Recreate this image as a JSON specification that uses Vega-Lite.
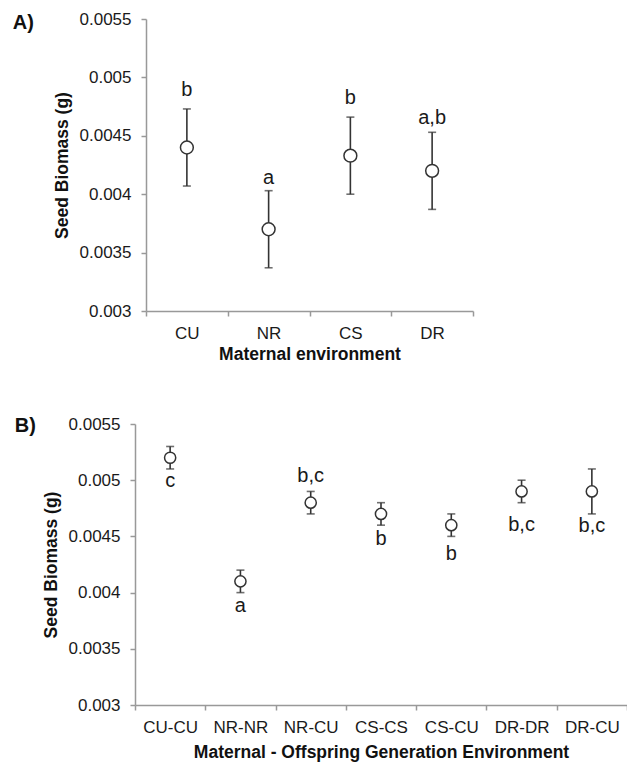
{
  "$schema": "https://vega.github.io/schema/vega-lite/v6.json",
  "background": "white",
  "padding": {"left": 12, "top": 10, "right": 0, "bottom": 2},
  "spacing": 52,
  "config": {
    "view": {"stroke": null},
    "font": "Liberation Sans",
    "axis": {
      "domainColor": "#999999",
      "tickColor": "#999999",
      "domainWidth": 1.5,
      "tickWidth": 1.5,
      "tickSize": 5,
      "labelColor": "#1a1a1a",
      "titleColor": "#111111",
      "labelFont": "Liberation Sans",
      "titleFont": "Liberation Sans",
      "labelFontSize": 17,
      "titleFontSize": 17.5,
      "titleFontWeight": "bold",
      "grid": false
    }
  },
  "vconcat": [
    {
      "width": 338,
      "height": 292,
      "title": {"text": "A)", "orient": "left", "anchor": "end", "angle": 0, "align": "right", "baseline": "middle", "fontSize": 20, "fontWeight": "bold", "font": "Liberation Sans", "color": "#111111", "offset": -2, "dy": 4, "frame": "group"},
      "data": {"values": [
        {"env": "CU", "mean": 0.0044, "lower": 0.00407, "upper": 0.00473, "label": "b", "label_y": 0.00489},
        {"env": "NR", "mean": 0.0037, "lower": 0.00337, "upper": 0.00403, "label": "a", "label_y": 0.00414},
        {"env": "CS", "mean": 0.00433, "lower": 0.0040, "upper": 0.00466, "label": "b", "label_y": 0.00482},
        {"env": "DR", "mean": 0.0042, "lower": 0.00387, "upper": 0.00453, "label": "a,b", "label_y": 0.00465}
      ]},
      "encoding": {
        "x": {"field": "env", "type": "nominal", "sort": null, "title": "Maternal environment",
              "scale": {"paddingInner": 0, "paddingOuter": 0, "range": [11, 338]},
              "axis": {"labelAngle": 0, "tickBand": "extent", "labelPadding": 9, "titlePadding": 4}}
      },
      "layer": [
        {
          "mark": {"type": "errorbar", "color": "#333333", "thickness": 1.6, "ticks": {"size": 8, "thickness": 1.6, "color": "#333333"}},
          "encoding": {
            "y": {"field": "lower", "type": "quantitative", "title": "Seed Biomass (g)",
                  "scale": {"domain": [0.003, 0.0055], "nice": false},
                  "axis": {"values": [0.003, 0.0035, 0.004, 0.0045, 0.005, 0.0055], "format": "~g", "labelPadding": 10, "titlePadding": 8, "offset": -11}},
            "y2": {"field": "upper"}
          }
        },
        {
          "mark": {"type": "point", "shape": "circle", "filled": true, "fill": "white", "stroke": "#333333", "strokeWidth": 1.5, "size": 165, "opacity": 1},
          "encoding": {"y": {"field": "mean", "type": "quantitative"}}
        },
        {
          "mark": {"type": "text", "fontSize": 20, "baseline": "middle", "color": "#1a1a1a", "font": "Liberation Sans"},
          "encoding": {"y": {"field": "label_y", "type": "quantitative"}, "text": {"field": "label"}}
        }
      ]
    },
    {
      "width": 492,
      "height": 281,
      "title": {"text": "B)", "orient": "left", "anchor": "end", "angle": 0, "align": "right", "baseline": "middle", "fontSize": 20, "fontWeight": "bold", "font": "Liberation Sans", "color": "#111111", "offset": -15, "dy": 2, "frame": "group"},
      "data": {"values": [
        {"env": "CU-CU", "mean": 0.0052, "lower": 0.0051, "upper": 0.0053, "label": "c", "label_y": 0.00499},
        {"env": "NR-NR", "mean": 0.0041, "lower": 0.0040, "upper": 0.0042, "label": "a", "label_y": 0.00388},
        {"env": "NR-CU", "mean": 0.0048, "lower": 0.0047, "upper": 0.0049, "label": "b,c", "label_y": 0.00504},
        {"env": "CS-CS", "mean": 0.0047, "lower": 0.0046, "upper": 0.0048, "label": "b", "label_y": 0.00448},
        {"env": "CS-CU", "mean": 0.0046, "lower": 0.0045, "upper": 0.0047, "label": "b", "label_y": 0.00434},
        {"env": "DR-DR", "mean": 0.0049, "lower": 0.0048, "upper": 0.0050, "label": "b,c", "label_y": 0.0046},
        {"env": "DR-CU", "mean": 0.0049, "lower": 0.0047, "upper": 0.0051, "label": "b,c", "label_y": 0.00459}
      ]},
      "encoding": {
        "x": {"field": "env", "type": "nominal", "sort": null, "title": "Maternal - Offspring Generation Environment",
              "scale": {"paddingInner": 0, "paddingOuter": 0},
              "axis": {"labelAngle": 0, "tickBand": "extent", "labelPadding": 9, "titlePadding": 8}}
      },
      "layer": [
        {
          "mark": {"type": "errorbar", "color": "#333333", "thickness": 1.6, "ticks": {"size": 8, "thickness": 1.6, "color": "#333333"}},
          "encoding": {
            "y": {"field": "lower", "type": "quantitative", "title": "Seed Biomass (g)",
                  "scale": {"domain": [0.003, 0.0055], "nice": false},
                  "axis": {"values": [0.003, 0.0035, 0.004, 0.0045, 0.005, 0.0055], "format": "~g", "labelPadding": 10, "titlePadding": 8}},
            "y2": {"field": "upper"}
          }
        },
        {
          "mark": {"type": "point", "shape": "circle", "filled": true, "fill": "white", "stroke": "#333333", "strokeWidth": 1.5, "size": 125, "opacity": 1},
          "encoding": {"y": {"field": "mean", "type": "quantitative"}}
        },
        {
          "mark": {"type": "text", "fontSize": 20, "baseline": "middle", "color": "#1a1a1a", "font": "Liberation Sans"},
          "encoding": {"y": {"field": "label_y", "type": "quantitative"}, "text": {"field": "label"}}
        }
      ]
    }
  ]
}
